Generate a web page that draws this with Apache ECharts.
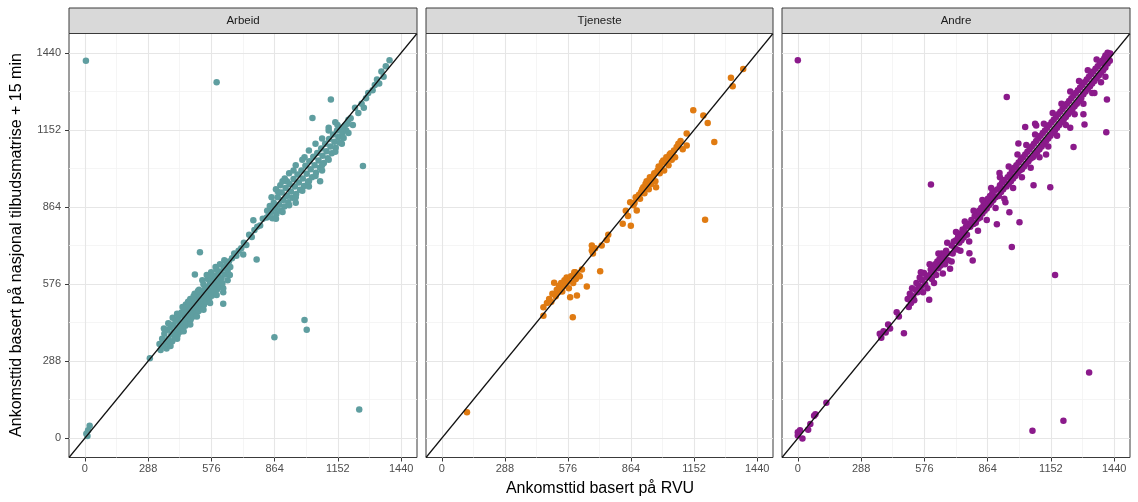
<!DOCTYPE html>
<html><head><meta charset="utf-8">
<script src="https://cdn.jsdelivr.net/npm/echarts@6/dist/echarts.min.js"></script>
<style>html,body{margin:0;padding:0;background:#fff}#c{width:1138px;height:502px}</style>
</head><body><div id="c"></div>
<script>
const panelNames = ['Arbeid', 'Tjeneste', 'Andre'];
const tickValues = [0, 288, 576, 864, 1152, 1440];
const minorValues = [144, 432, 720, 1008, 1296];
const AXIS_MIN = -72, AXIS_MAX = 1512;
const xTitle = 'Ankomsttid basert på RVU';
const yTitle = 'Ankomsttid basert på nasjonal tilbudsmatrise + 15 min';

const arbeid = [
[5,1410],[600,1330],[1120,1265],[1036,1196],[1266,1017],[1071,960],[524,695],[501,612],[782,668],[721,686],
[630,545],[630,502],[1000,442],[1010,405],[863,377],[1249,107],[296,299],[7,17],[22,47],[15,30],[12,8],
[340,352],[345,330],[352,372],[358,345],[362,390],[368,360],[372,335],[376,405],[380,372],[385,350],[390,415],
[394,388],[398,362],[402,425],[406,398],[410,376],[414,440],[418,410],[422,385],[426,452],[430,420],[434,398],
[438,462],[442,432],[446,410],[450,470],[454,445],[458,420],[462,480],[466,455],[470,432],[474,492],[478,466],
[482,444],[486,500],[490,476],[494,455],[498,512],[502,486],[506,464],[510,522],[514,498],[518,475],[522,532],
[526,508],[530,486],[534,545],[538,518],[542,498],[546,556],[550,530],[554,510],[558,566],[562,542],[566,520],
[570,578],[574,552],[578,532],[582,590],[586,565],[590,544],[594,600],[598,576],[602,556],[606,612],[610,588],
[614,566],[618,622],[622,598],[626,578],[632,636],[638,612],[644,648],[650,625],[656,660],[662,640],
[420,440],[440,470],[460,500],[480,520],[500,540],[520,555],[540,575],[560,595],[580,610],[600,630],
[360,410],[380,430],[400,450],[420,465],[445,490],[470,510],[495,530],[515,550],[535,590],[555,610],[575,620],
[595,640],[615,650],[635,665],[390,345],[420,372],[450,400],[480,425],[510,455],[540,480],[570,505],[600,535],
[630,560],[650,590],[660,610],
[670,672],[680,690],[690,682],[700,700],[712,710],[724,730],[735,722],[748,760],[760,752],[767,814],[772,778],
[785,790],[798,795],[810,820],[828,825],
[830,850],[836,828],[842,868],[848,845],[854,822],[860,880],[866,858],[872,838],[878,900],[884,872],[890,850],
[896,918],[902,890],[908,866],[914,935],[920,905],[926,882],[932,950],[938,922],[944,898],[950,968],[956,940],
[962,912],[968,985],[974,955],[980,928],[986,1000],[992,970],[998,942],[1004,1018],[1010,988],[1016,958],
[1022,1035],[1028,1005],[1034,975],[1040,1052],[1046,1020],[1052,992],[1058,1066],[1064,1038],[1070,1010],
[1076,1082],[1082,1055],[1088,1028],[1094,1100],[1100,1072],[1106,1046],[1112,1118],[1118,1090],[1124,1065],
[1130,1135],[1136,1108],[1142,1085],[1148,1150],[1154,1125],[1160,1105],[1166,1160],[1172,1140],[1178,1122],
[1184,1168],[1190,1150],[1196,1175],
[900,960],[950,1000],[1000,1050],[1020,940],[960,880],[1080,1000],[1110,1150],[1150,1170],[880,920],[920,960],
[850,900],[870,930],[890,945],[910,970],[930,990],[960,1020],[990,1040],[1020,1075],[1050,1100],[1080,1120],
[1110,1160],[1140,1180],[870,820],[900,845],[930,870],[960,900],[990,925],[1020,960],[1050,980],[1080,1020],
[1110,1040],[1140,1070],[1170,1100],[1200,1140],[1210,1195],[1220,1170],
[1200,1190],[1230,1235],[1260,1250],[1290,1290],[1310,1300],[1330,1340],[1350,1370],[1370,1390],[1387,1412],
[1280,1270],[1245,1215],[1340,1325],[1360,1350],[1320,1320],[1270,1235]
];

const tjeneste = [
[115,97],[464,489],[464,458],[480,505],[490,520],[500,510],[505,540],[513,581],[520,530],[525,555],[530,545],
[535,570],[540,560],[545,580],[550,548],[555,575],[560,590],[565,570],[570,600],[575,585],[580,560],[586,527],
[590,605],[598,452],[600,580],[605,620],[609,620],[612,595],[617,533],[622,610],[630,605],[640,630],[662,567],
[685,701],[685,720],[690,690],[700,710],[723,624],[730,720],[753,741],[760,760],[826,801],[840,850],[850,830],
[860,882],[863,794],[875,870],[880,880],[885,900],[890,851],[900,910],[905,895],[910,920],[915,930],[920,938],
[925,915],[930,950],[935,960],[940,945],[945,930],[950,975],[955,950],[960,965],[965,980],[970,990],[975,960],
[978,938],[985,1000],[990,1015],[995,990],[1000,1010],[1005,1030],[1011,1038],[1015,1000],[1020,1030],
[1025,1050],[1030,1045],[1035,1020],[1040,1060],[1045,1065],[1050,1040],[1055,1055],[1060,1075],[1065,1050],
[1072,1088],[1080,1100],[1090,1110],[1100,1080],[1118,1138],[1118,1094],[1148,1225],[1194,1206],[1214,1178],
[1244,1107],[1202,816],[1320,1347],[1328,1315],[1376,1379]
];

const andre = [
[0,1412],[951,1275],[606,948],
[0,22],[21,-1],[0,10],[10,30],[47,32],[57,53],[74,84],[80,90],[130,133],[373,390],[380,375],[390,400],[400,395],
[411,425],[420,410],[450,471],[460,455],[483,392],[500,520],[505,490],[510,540],[515,505],[520,560],[525,530],
[530,515],[535,555],[540,580],[545,545],[550,570],[555,600],[560,565],[565,590],[570,545],[574,617],[580,575],
[585,600],[590,560],[598,517],[600,610],[605,630],[610,595],[615,640],[620,620],[625,650],[630,610],[635,660],
[640,635],[645,670],[650,645],[655,690],[660,660],[665,680],[670,650],[675,700],[680,690],[685,665],[693,633],
[700,720],[705,690],[710,735],[715,710],[720,740],[725,705],[730,755],[735,730],[740,765],[745,740],[750,780],
[755,750],[760,770],[765,790],[770,760],[775,800],[781,691],[785,790],[790,815],[796,664],[800,800],[805,830],
[810,805],[815,840],[820,820],[825,850],[830,825],[835,860],[840,840],[845,870],[850,850],[855,880],[860,858],
[865,895],[870,870],[875,905],[880,880],[885,915],[890,890],[895,925],[900,900],[906,799],[910,930],[915,905],
[918,991],[920,945],[925,920],[930,955],[935,930],[940,965],[945,882],[950,940],[955,975],[960,950],[963,844],
[965,985],[970,960],[974,714],[975,1000],[980,970],[985,1010],[990,980],[995,1020],[1000,990],[1004,1101],
[1005,1030],[1009,807],[1010,1000],[1015,1040],[1020,1005],[1025,1050],[1030,1015],[1035,1060],[1035,1163],
[1040,1025],[1045,1070],[1050,1035],[1055,1080],[1060,1045],[1065,1090],[1068,28],[1070,1050],[1073,945],
[1075,1100],[1080,1060],[1085,1168],[1085,1110],[1090,1070],[1095,1120],[1100,1080],[1105,1130],[1110,1090],
[1115,1140],[1120,1100],[1125,1150],[1130,1110],[1135,1160],[1140,1120],[1145,1170],[1149,938],[1150,1130],
[1155,1180],[1160,1140],[1165,1190],[1170,1150],[1171,610],[1175,1200],[1180,1160],[1185,1210],[1190,1170],
[1195,1220],[1200,1180],[1205,1230],[1209,65],[1210,1190],[1215,1240],[1220,1200],[1225,1250],[1230,1210],
[1235,1260],[1240,1220],[1245,1270],[1250,1230],[1255,1088],[1255,1280],[1260,1240],[1265,1290],[1270,1250],
[1275,1300],[1280,1260],[1285,1310],[1290,1270],[1295,1320],[1300,1285],[1305,1172],[1305,1330],[1310,1295],
[1315,1340],[1320,1305],[1326,246],[1325,1350],[1330,1315],[1335,1360],[1340,1325],[1345,1370],[1350,1335],
[1355,1380],[1360,1345],[1365,1390],[1370,1355],[1375,1400],[1380,1365],[1385,1410],[1390,1375],[1395,1420],
[1400,1385],[1404,1143],[1405,1425],[1407,1265],[1410,1400],[1415,1430],[1422,1437],[1420,1410],
[560,620],[600,650],[640,690],[680,730],[720,770],[760,810],[800,850],[840,890],[880,935],[920,975],[960,1015],
[1000,1060],[1040,1095],[1080,1135],[1120,1175],[1160,1215],[1200,1250],[1240,1295],[1280,1335],[1320,1375],
[1360,1415],[620,580],[660,615],[700,660],[740,700],[780,735],[820,775],[860,815],[900,860],[940,895],[980,935],
[1020,975],[1060,1010],[1100,1050],[1140,1090],[1180,1130],[1220,1170],[1260,1210],[1300,1250],[1340,1290],
[1380,1330],[1400,1350],[1390,1400],[1410,1440],[1400,1430],[1080,1175],[1130,1060],[1240,1160],[1300,1210],
[1350,1290]
];

const panelData = [arbeid, tjeneste, andre];
const colors = ['#5F9EA0', '#E07B12', '#8B1A8B'];
const FONT = '"Liberation Sans", Arial, sans-serif';
const gridBoxes = [{left: 69, width: 348}, {left: 426, width: 347}, {left: 782, width: 348}];
const TOP = 33.5, HEIGHT = 424, STRIP_TOP = 8;

const grid = [], xAxis = [], yAxis = [], series = [], graphic = [];
const fmt = v => String(v);
gridBoxes.forEach((g, i) => {
  grid.push({left: g.left, top: TOP, width: g.width, height: HEIGHT, show: true,
    borderColor: '#3a3a3a', borderWidth: 1, backgroundColor: '#fff', containLabel: false});
  const tickCfg = {show: true, length: 4, lineStyle: {color: '#3a3a3a', width: 1}, customValues: tickValues};
  xAxis.push({type: 'value', gridIndex: i, min: AXIS_MIN, max: AXIS_MAX,
    splitLine: {show: false}, axisLine: {show: false, onZero: false},
    axisTick: tickCfg,
    axisLabel: {customValues: tickValues, formatter: fmt, color: '#4D4D4D', fontSize: 11, margin: 6, fontFamily: FONT}});
  yAxis.push({type: 'value', gridIndex: i, min: AXIS_MIN, max: AXIS_MAX,
    splitLine: {show: false}, axisLine: {show: false, onZero: false},
    axisTick: i === 0 ? tickCfg : {show: false},
    axisLabel: i === 0 ? {customValues: tickValues, formatter: fmt, color: '#4D4D4D', fontSize: 11, margin: 8, fontFamily: FONT} : {show: false}});
  const ml = [];
  minorValues.forEach(v => {
    ml.push({xAxis: v, lineStyle: {color: '#F2F2F2', width: 0.8, type: 'solid'}});
    ml.push({yAxis: v, lineStyle: {color: '#F2F2F2', width: 0.8, type: 'solid'}});
  });
  tickValues.forEach(v => {
    ml.push({xAxis: v, lineStyle: {color: '#E6E6E6', width: 1.1, type: 'solid'}});
    ml.push({yAxis: v, lineStyle: {color: '#E6E6E6', width: 1.1, type: 'solid'}});
  });
  series.push({type: 'line', xAxisIndex: i, yAxisIndex: i, data: [[AXIS_MIN, AXIS_MIN]],
    symbol: 'none', lineStyle: {opacity: 0}, silent: true, z: 1, animation: false,
    markLine: {z: 1, silent: true, symbol: ['none', 'none'], label: {show: false}, animation: false, data: ml}});
  series.push({type: 'scatter', name: panelNames[i], xAxisIndex: i, yAxisIndex: i, data: panelData[i],
    symbolSize: 6.5, itemStyle: {color: colors[i], opacity: 1}, z: 3, animation: false});
  series.push({type: 'line', xAxisIndex: i, yAxisIndex: i, data: [[AXIS_MIN, AXIS_MIN], [AXIS_MAX, AXIS_MAX]],
    symbol: 'none', lineStyle: {color: '#111', width: 1.2}, z: 4, silent: true, animation: false});
  graphic.push({type: 'rect', shape: {x: g.left, y: STRIP_TOP, width: g.width, height: TOP - STRIP_TOP},
    style: {fill: '#D9D9D9', stroke: '#3a3a3a', lineWidth: 1}, z: 10});
  graphic.push({type: 'text', x: g.left + g.width / 2, y: (STRIP_TOP + TOP) / 2 + 0.5, z: 11,
    style: {text: panelNames[i], fill: '#1A1A1A', font: '11.5px ' + FONT, align: 'center', verticalAlign: 'middle'}});
});
graphic.push({type: 'text', x: 600, y: 489, style: {text: xTitle, fill: '#000', font: '16px ' + FONT, align: 'center', verticalAlign: 'middle'}});
graphic.push({type: 'text', x: 17, y: 245, rotation: Math.PI / 2, style: {text: yTitle, fill: '#000', font: '16px ' + FONT, align: 'center', verticalAlign: 'middle'}});

const chart = echarts.init(document.getElementById('c'), null, {renderer: 'canvas'});
chart.setOption({animation: false, backgroundColor: '#fff', grid, xAxis, yAxis, series, graphic});
</script></body></html>
